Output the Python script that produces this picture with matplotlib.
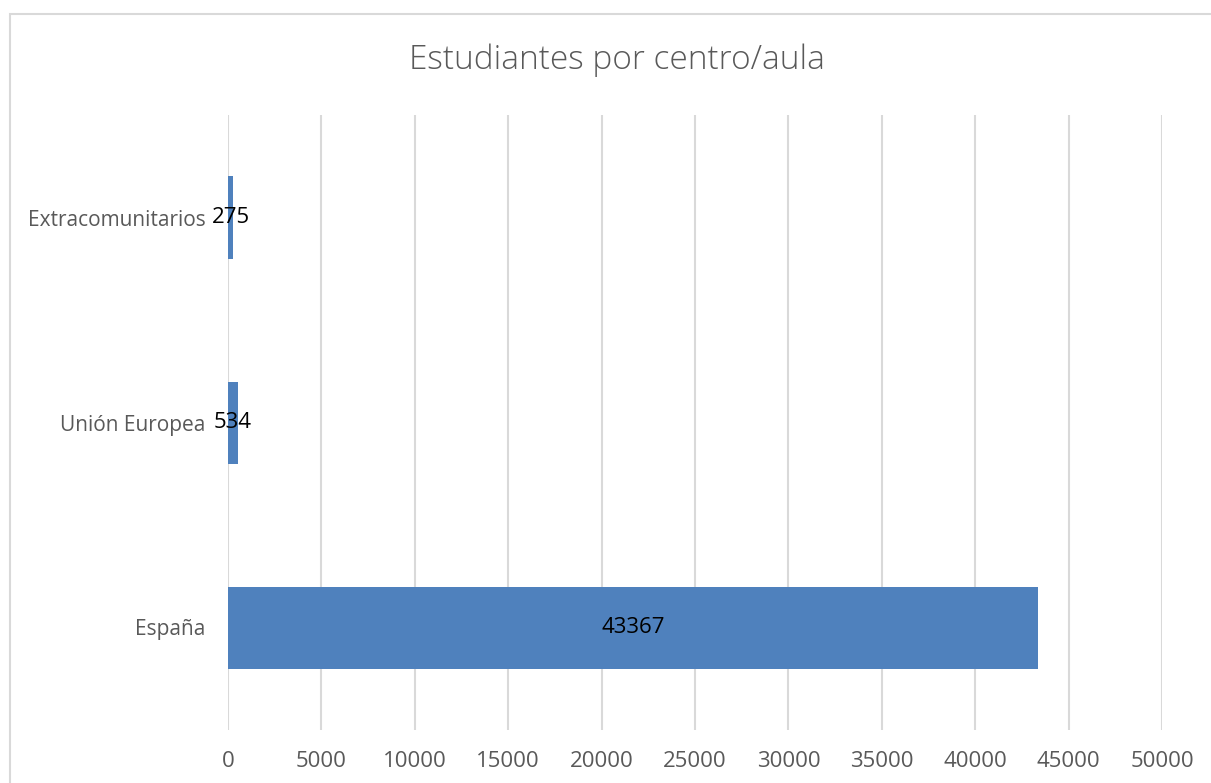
import matplotlib.pyplot as plt
from matplotlib.patches import Rectangle

# datos
categorias = ['España', 'Unión Europea', 'Extracomunitarios']
estudiantes = [43367, 534, 275]
ticks_x = [0, 5000, 10000, 15000, 20000, 25000, 30000, 35000, 40000, 45000, 50000]

plt.rcParams['font.family'] = ['Open Sans', 'DejaVu Sans']
W, H = 1211, 783
fig = plt.figure(figsize=(W / 100, H / 100), dpi=100)

# borde del área del gráfico (recortado a la derecha y abajo)
fig.patches.append(Rectangle((10 / W, -0.1), 1.2, 1 - 14 / H + 0.1,
                             transform=fig.transFigure, fill=False,
                             edgecolor='#d9d9d9', linewidth=1.5))

ax = fig.add_axes([228 / W, 1 - 730 / H, (1162 - 228) / W, (730 - 115) / H])
pos = range(len(categorias))
ax.barh(pos, estudiantes, height=0.4, color='#4f81bd', zorder=2)
for p, v in zip(pos, estudiantes):
    ax.text(v / 2, p, str(v), ha='center', va='center', fontsize=16,
            color='black', zorder=3)

ax.set_xlim(0, 50000)
ax.set_ylim(-0.5, 2.5)
ax.set_xticks(ticks_x)
ax.set_yticks(list(pos))
ax.set_yticklabels(categorias)
ax.grid(axis='x', color='#d9d9d9', linewidth=1.5, zorder=0)
ax.tick_params(axis='x', length=0, labelsize=16, colors='#595959', pad=15)
ax.tick_params(axis='y', length=0, labelsize=15, colors='#595959', pad=16)
for s in ax.spines.values():
    s.set_visible(False)

fig.text(617 / W, 1 - 60 / H, 'Estudiantes por centro/aula', ha='center',
         va='center', fontsize=24, color='#595959', fontweight='light')

fig.savefig('out.png', dpi=100)
